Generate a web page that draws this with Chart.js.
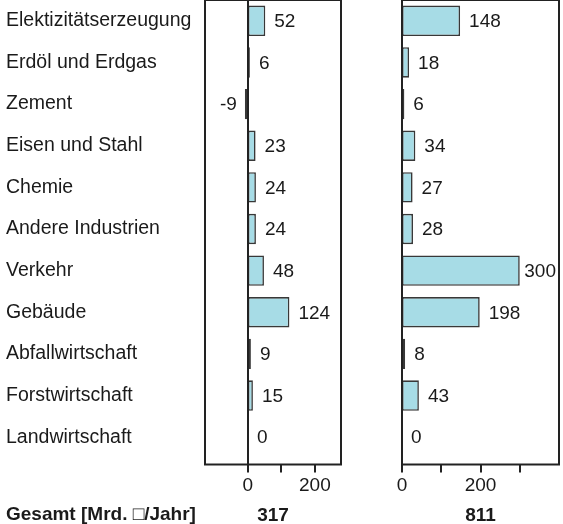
<!DOCTYPE html>
<html><head><meta charset="utf-8">
<script src="https://cdn.jsdelivr.net/npm/chart.js@4/dist/chart.umd.min.js"></script>
<style>
html,body{margin:0;padding:0;background:#fff;}
#wrap{position:relative;width:563px;height:524px;overflow:hidden;background:#fff;}
#c1{position:absolute;left:0;top:0;}
#c2{position:absolute;left:380px;top:0;}
</style></head><body>
<div id="wrap"><canvas id="c1" width="380" height="524"></canvas><canvas id="c2" width="183" height="524"></canvas></div>
<script>
const categories = ['Elektizitätserzeugung','Erdöl und Erdgas','Zement','Eisen und Stahl','Chemie','Andere Industrien','Verkehr','Gebäude','Abfallwirtschaft','Forstwirtschaft','Landwirtschaft'];
const valuesLeft = [52,6,-9,23,24,24,48,124,9,15,0];
const valuesRight = [148,18,6,34,27,28,300,198,8,43,0];
const totals = ['317','811'];
const ticksLeft = [0,100,200];
const ticksRight = [0,100,200,300];
const shownTickLabels = [0,200];
const footLabel = 'Gesamt [Mrd. \u25A1/Jahr]';

const FONT = '"Liberation Sans", Arial, Helvetica, sans-serif';
const TXT = '#1a1a1a';
Chart.defaults.font.family = FONT;
Chart.defaults.font.size = 19;
Chart.defaults.color = TXT;

function panelPlugin(values, withFoot){
  return {
    id:'panel',
    afterDatasetsDraw(chart){
      const {ctx, chartArea:a, scales:{x}} = chart;
      const fb = a.bottom + 6.5;
      ctx.save();
      ctx.strokeStyle = '#222'; ctx.lineWidth = 2;
      const x0 = Math.round(x.getPixelForValue(0));
      ctx.beginPath(); ctx.moveTo(x0, a.top); ctx.lineTo(x0, fb + 8); ctx.stroke();
      ctx.strokeRect(Math.round(a.left), a.top, Math.round(a.right) - Math.round(a.left), fb - a.top);
      x.ticks.forEach(t => {
        if (t.value > 0 && t.value < x.max) {
          const px = Math.round(x.getPixelForValue(t.value));
          ctx.beginPath(); ctx.moveTo(px, fb); ctx.lineTo(px, fb + 8); ctx.stroke();
        }
      });
      ctx.font = '19px ' + FONT; ctx.fillStyle = TXT; ctx.textBaseline = 'middle';
      const meta = chart.getDatasetMeta(0);
      meta.data.forEach((bar, i) => {
        const v = values[i];
        const s = String(v);
        const w = ctx.measureText(s).width;
        if (v < 0) { ctx.textAlign = 'right'; ctx.fillText(s, bar.x - 8, bar.y + 1); }
        else {
          let tx = bar.x + 9;
          if (tx + w > a.right - 3) tx = a.right - w - 3;
          ctx.textAlign = 'left'; ctx.fillText(s, tx, bar.y + 1);
        }
      });
      if (withFoot) {
        ctx.font = 'bold 19px ' + FONT; ctx.textAlign = 'left';
        ctx.fillText(footLabel, 6, 515);
      }
      ctx.restore();
    }
  };
}

function makeChart(id, values, min, max, tickVals, total, showY, pad){
  return new Chart(document.getElementById(id), {
    type:'bar',
    data:{ labels: categories, datasets:[{ data: values, backgroundColor:'#a7dce6', borderColor:'#383838', borderWidth:1.6, borderSkipped:false, barPercentage:0.73, categoryPercentage:1 }]},
    options:{
      indexAxis:'y', responsive:false, animation:false,
      layout:{ padding: pad },
      plugins:{ legend:{display:false}, tooltip:{enabled:false} },
      scales:{
        x:{ min:min, max:max, grid:{display:false, drawTicks:false}, border:{display:false},
            afterBuildTicks:(s)=>{ s.ticks = tickVals.map(v => ({value:v})); },
            ticks:{ padding:16, maxRotation:0, autoSkip:false,
              callback:(v)=> shownTickLabels.includes(v) ? String(v) : '' },
            title:{ display:true, text: total, font:{weight:'bold', size:19, lineHeight:0.9}, padding:{top:0,bottom:0}, color:TXT },
            afterFit:(s)=>{ s.height = 66; } },
        y:{ display: showY, grid:{display:false, drawTicks:false}, border:{display:false},
            ticks:{ crossAlign:'far', padding:0, color:TXT, font:{size:19.5} },
            afterFit:(s)=>{ if (showY) s.width = 199; s.paddingTop = 0; s.paddingBottom = 0; } }
      }
    },
    plugins:[panelPlugin(values, showY)]
  });
}

makeChart('c1', valuesLeft, -128, 278, ticksLeft, totals[0], true, {left:6, right:39, top:0, bottom:0});
makeChart('c2', valuesRight, 0, 400, ticksRight, totals[1], false, {left:22, right:4, top:0, bottom:0});
</script>
</body></html>
